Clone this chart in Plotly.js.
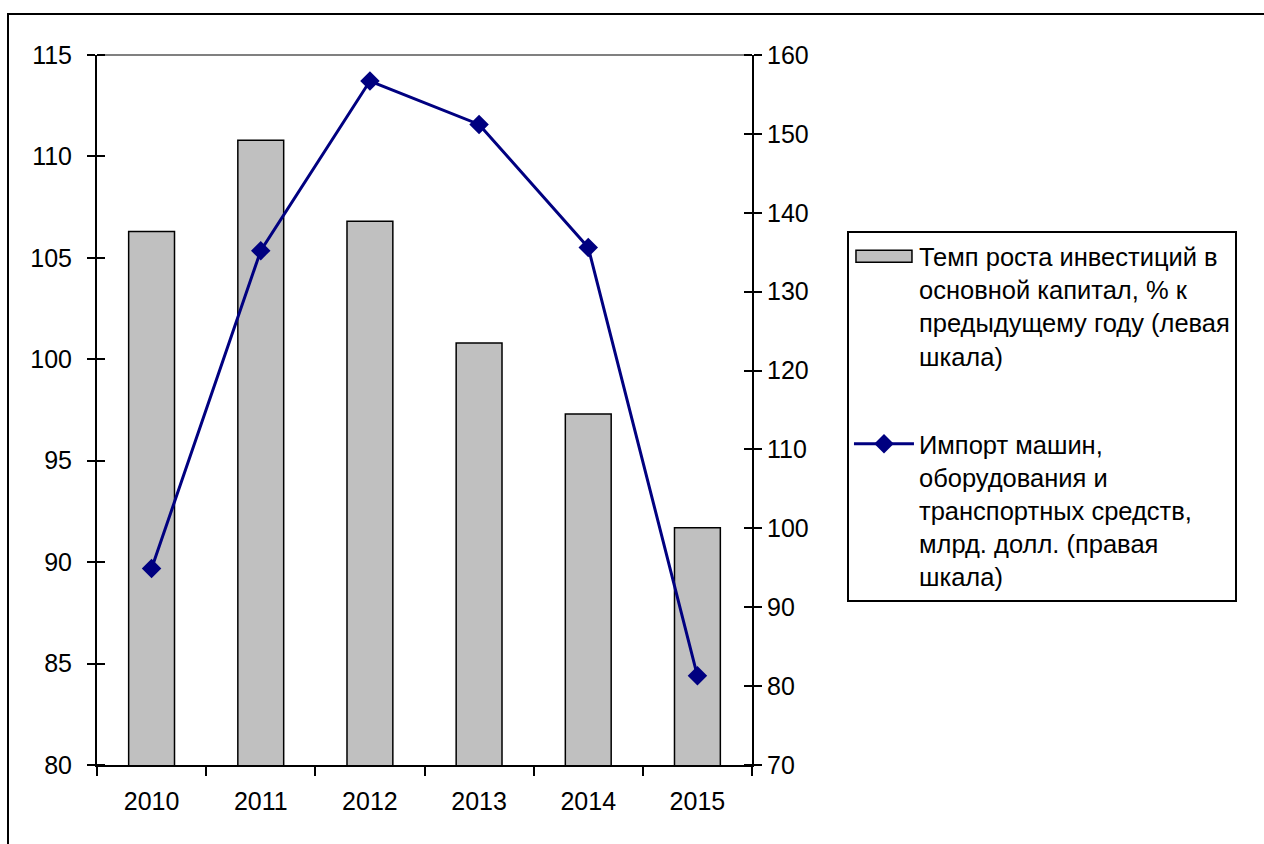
<!DOCTYPE html>
<html><head><meta charset="utf-8">
<script src="https://cdn.plot.ly/plotly-3.0.1.min.js"></script>
<style>
html,body{margin:0;padding:0;background:#fff;overflow:hidden}
#chart{width:1264px;height:844px;position:absolute;left:0;top:0}
#frame{position:absolute;left:7px;top:13px;width:1300px;height:900px;border:2px solid #000;pointer-events:none}
</style></head>
<body>
<div id="chart"></div>
<div id="frame"></div>
<script>
const years = ['2010','2011','2012','2013','2014','2015'];
const investGrowth = [106.3, 110.8, 106.8, 100.8, 97.3, 91.7];
const importMachines = [94.9, 135.2, 156.7, 151.2, 135.6, 81.3];
const barName = 'Темп роста инвестиций в<br>основной капитал, % к<br>предыдущему году (левая<br>шкала)';
const lineName = 'Импорт машин,<br>оборудования и<br>транспортных средств,<br>млрд. долл. (правая<br>шкала)';

const font = {family: 'Liberation Sans, Arial, sans-serif', size: 25, color: '#000'};

const traces = [
  {type:'bar', x: years, y: investGrowth, name: barName, yaxis:'y', legendgroup:'a',
   marker:{color:'#C0C0C0', line:{color:'#000', width:1.5}}},
  {type:'scatter', mode:'lines+markers', x: years, y: importMachines, name: lineName, yaxis:'y2', legendgroup:'b',
   line:{color:'#000080', width:3}, marker:{symbol:'diamond', size:15, color:'#000080'}}
];

const layout = {
  width:1264, height:844,
  margin:{l:97, r:512, t:55, b:79},
  paper_bgcolor:'#fff', plot_bgcolor:'#fff',
  font: font,
  bargap:0.58,
  showlegend:true,
  legend:{x:1.145, y:0.752, xanchor:'left', yanchor:'top', bgcolor:'#fff', valign:'top',
          bordercolor:'#000', borderwidth:2, font:{family:font.family, size:25.5, color:'#000'},
          tracegroupgap:52, itemwidth:60},
  xaxis:{type:'category', tickson:'boundaries', ticks:'outside', ticklen:9, tickwidth:2, tickcolor:'#000',
         showline:true, linecolor:'#000', linewidth:2, showgrid:false, ticklabelstandoff:13,
         tickfont:font},
  yaxis:{range:[80,115], dtick:5, tick0:80, ticks:'outside', ticklen:8, tickwidth:2, tickcolor:'#000',
         showline:true, linecolor:'#000', linewidth:2, showgrid:false, zeroline:false,
         ticklabelstandoff:10, tickfont:font,
         minor:{ticks:'inside', dtick:5, tick0:80, ticklen:8, tickwidth:2, tickcolor:'#000', showgrid:false}},
  yaxis2:{range:[70,160], dtick:10, tick0:70, overlaying:'y', side:'right',
          ticks:'outside', ticklen:8, tickwidth:2, tickcolor:'#000',
          showline:true, linecolor:'#000', linewidth:2, showgrid:false, zeroline:false,
          ticklabelstandoff:0, tickfont:font,
          minor:{ticks:'inside', dtick:10, tick0:70, ticklen:8, tickwidth:2, tickcolor:'#000', showgrid:false}},
  shapes:[{type:'line', xref:'paper', yref:'paper', x0:0, x1:1, y0:1, y1:1,
           line:{color:'#808080', width:2}, layer:'below'}]
};

Plotly.newPlot('chart', traces, layout, {staticPlot:true, displayModeBar:false}).then(function(gd){
  // widen the bar legend swatch to a flat rectangle like the original
  const items = gd.querySelectorAll('.legend .traces');
  if (items.length) {
    const p = items[0].querySelector('.legendpoints path');
    if (p) p.setAttribute('d', 'M-28,-6H28V6H-28Z');
  }
});
</script>
</body></html>
